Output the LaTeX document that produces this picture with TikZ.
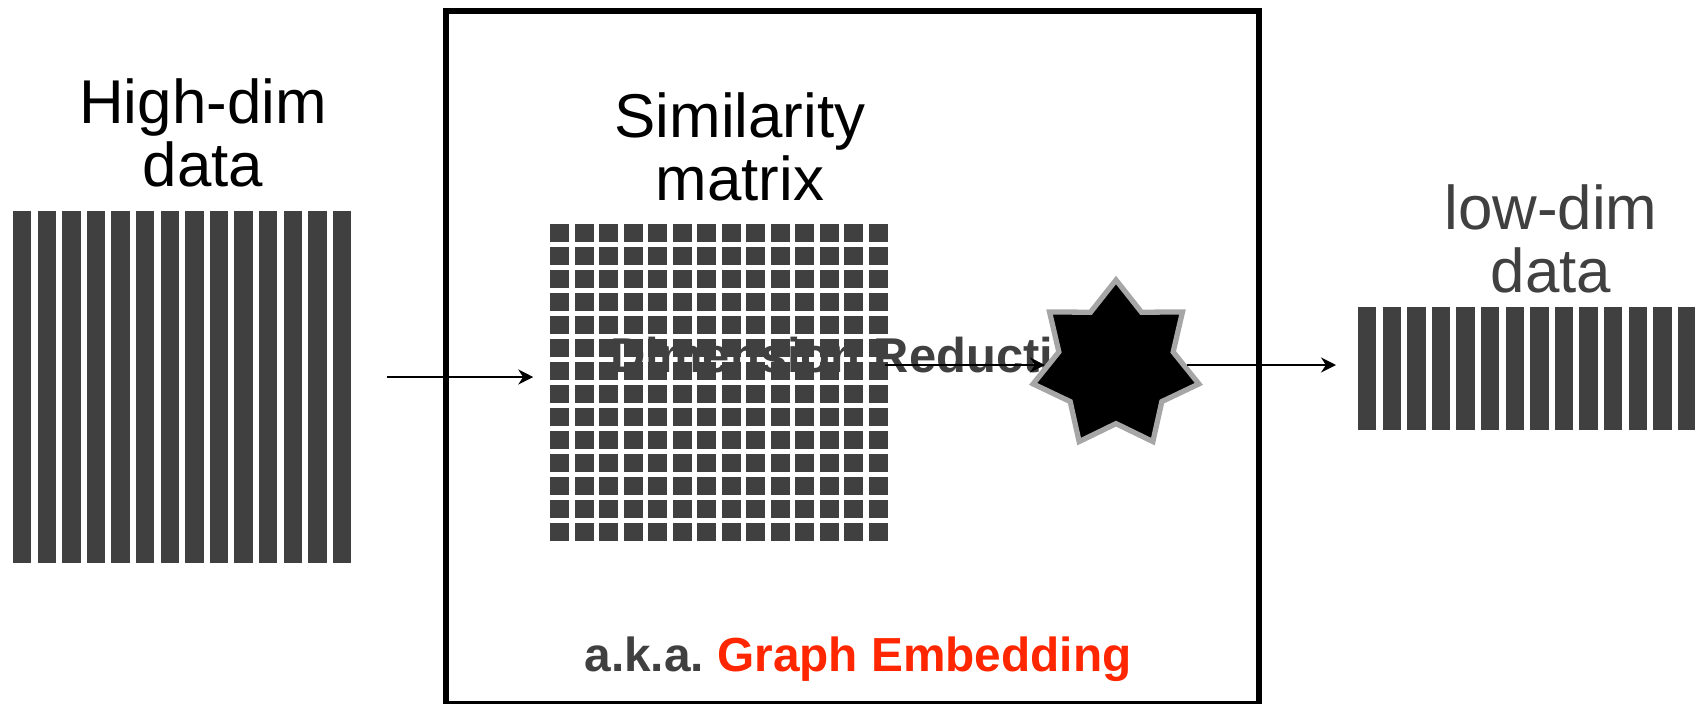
\documentclass[tikz,border=0pt]{standalone}
\usepackage{fontspec}
\setmainfont{Liberation Sans}
\usepackage{tikz}
\usetikzlibrary{arrows.meta,positioning,shapes.geometric}
\tikzset{
  barfill/.style={fill=barcolor},
  cellfill/.style={fill=barcolor},
  grp/.style={inner sep=0pt, outer sep=0pt, draw=none},
  flowln/.style={-{Stealth[length=1.5mm,width=1.5mm]}, line width=0.55pt, black},
  frameln/.style={line width=1.45pt, black},
  headtxt/.style={font=\fontsize{17.6}{17.9}\selectfont, align=center, anchor=base, inner sep=0pt},
  boldtxt/.style={font=\fontsize{13.9}{14}\selectfont\bfseries, inner sep=0pt},
}
\newcommand{\datastrips}[3]{%
  \foreach \i in {0,...,13}
    \fill[barfill] ({#1+0.246*\i},#2) rectangle +(0.183,#3);
}
\definecolor{barcolor}{RGB}{64,64,64}
\definecolor{hilitecolor}{RGB}{255,38,0}
\definecolor{rimcolor}{RGB}{166,166,166}

\begin{document}
\begin{tikzpicture}[scale=1.0]
    \useasboundingbox (0,0) rectangle (16.95,7.03);
    % frame: graph embedding
    \draw[frameln] (4.46,-0.01) rectangle (12.59,6.92);
    % high-dim data
    \datastrips{0.13}{1.40}{3.52}
    \node[grp, minimum width=3.38cm, minimum height=3.52cm] (hidim) at (1.82,3.16) {};
    \node[headtxt] (hitxt) at (2.03,5.17) {High-dim\\data};
    % similarity matrix
    \foreach \r in {0,...,13}
      \foreach \c in {0,...,13}
        \fill[cellfill] ({5.50+0.245*\c},{4.79-0.2297*\r}) rectangle +(0.19,-0.183);
    \node[grp, minimum width=3.375cm, minimum height=3.169cm] (simmat) at (7.19,3.205) {};
    \node[headtxt] (simtxt) at (7.40,5.03) {Similarity\\matrix};
    \node[boldtxt, text=barcolor, anchor=base west] (dimred) at (6.10,3.31) {Dimension Reduction};
    % low-dim data
    \datastrips{13.58}{2.73}{1.23}
    \node[grp, minimum width=3.38cm, minimum height=1.23cm] (lodim) at (15.27,3.345) {};
    \node[headtxt, text=barcolor] (lotxt) at (15.51,4.11) {low-dim\\data};
    % arrows
    \draw[flowln, shorten <=3.6mm, shorten >=1.7mm] ([yshift=1mm]hidim.east) -- ([yshift=1mm]hidim.east -| simmat.west);
    \node[star, star points=7, star point ratio=1.45, minimum size=1.70cm, inner sep=0pt,
          fill=black, draw=rimcolor, line width=1.5pt] (reducer) at (11.16,3.38) {};
    \draw[flowln] ([xshift=-0.3mm]reducer.west -| simmat.east) -- (reducer.west);
    \draw[flowln, shorten >=2.2mm] (reducer.east) -- (reducer.east -| lodim.west);
    % caption
    \node[font=\fontsize{13.6}{14}\selectfont\bfseries, anchor=base, inner sep=0pt] (aka) at (8.58,0.32)
      {\textcolor{barcolor}{a.k.a.}\ \textcolor{hilitecolor}{Graph Embedding}};
  \end{tikzpicture}
\end{document}
